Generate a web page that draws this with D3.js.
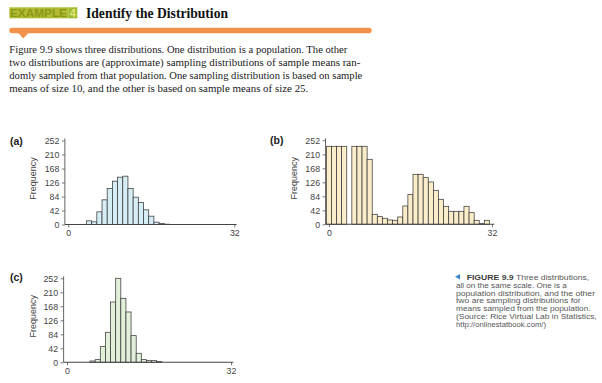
<!DOCTYPE html>
<html><head><meta charset="utf-8">
<script src="https://cdn.jsdelivr.net/npm/d3@7"></script>
<style>body{margin:0;background:#fff}svg{display:block}</style>
</head><body>
<svg id="c" width="602" height="383"></svg>
<script>
// ---- data ----
const binCenters = d3.range(0, 33);           // bins centred on 0..32
const popA = [0,0,0,0,11,8,38,74,108,130,142,145,108,82,66,44,25,7,3,1,0,0,0,0,0,0,0,0,0,0,0,0,0];
const popB = [234,234,234,234,0,234,234,234,195,30,23,18,13,12,22,55,89,150,150,140,127,102,75,54,39,39,39,54,35,12,2,12,0];
const popC = [0,0,0,0,0,4,8,47,90,181,252,192,151,80,27,8,5,5,2,0,0,0,0,0,0,0,0,0,0,0,0,0,0];
const yTicks = [0,42,84,126,168,210,252];
const xTicks = [0,32];
const panelLabels = ["(a)","(b)","(c)"];
const yTitle = "Frequency";
const titleText = "Identify the Distribution";
const exampleText = "EXAMPLE";
const exampleNum = "4";
const paragraph = [
  "Figure 9.9 shows three distributions. One distribution is a population. The other",
  "two distributions are (approximate) sampling distributions of sample means ran-",
  "domly sampled from that population. One sampling distribution is based on sample",
  "means of size 10, and the other is based on sample means of size 25."
];
const captionLines = [
  "FIGURE 9.9 Three distributions,",
  "all on the same scale. One is a",
  "population distribution, and the other",
  "two are sampling distributions for",
  "means sampled from the population.",
  "(Source: Rice Virtual Lab in Statistics,",
  "http://onlinestatbook.com/)"
];

// ---- layout ----
const svg = d3.select("#c");
svg.append("rect").attr("width",602).attr("height",383).attr("fill","#fff");

// header
svg.append("rect").attr("x",9.3).attr("y",7.3).attr("width",59).attr("height",11).attr("fill","#b1bb33");
svg.append("rect").attr("x",68.3).attr("y",7.3).attr("width",9).attr("height",11).attr("fill","#9dbb2c");
svg.append("text").attr("x",10).attr("y",17.3).text(exampleText)
  .attr("font-family","Liberation Sans, Arial, sans-serif").attr("font-size",11).attr("font-weight","bold")
  .attr("fill","#8a9818").attr("textLength",57).attr("lengthAdjust","spacingAndGlyphs");
svg.append("text").attr("x",72.8).attr("y",17.3).attr("text-anchor","middle").text(exampleNum)
  .attr("font-family","Liberation Sans, Arial, sans-serif").attr("font-size",11).attr("font-weight","bold")
  .attr("fill","#dfe579");
svg.append("text").attr("x",86).attr("y",17.5).text(titleText)
  .attr("font-family","Liberation Serif, Times New Roman, serif").attr("font-size",15.5).attr("font-weight","bold")
  .attr("fill","#111").attr("textLength",142).attr("lengthAdjust","spacingAndGlyphs");
svg.append("rect").attr("x",9.3).attr("y",27.7).attr("width",362.4).attr("height",5.6).attr("rx",2.8).attr("fill","#f3914b");
svg.append("path").attr("d","M18.3,33 L28.3,33 L23.3,38.5 Z").attr("fill","#f3914b");

const paraW = [338, 351, 353, 299];
svg.append("g").selectAll("text").data(paragraph).join("text")
  .attr("x",9.3).attr("y",(d,i)=>53+i*12.9).text(d=>d)
  .attr("font-family","Liberation Serif, Times New Roman, serif").attr("font-size",10.2)
  .attr("fill","#1a1a1a").attr("textLength",(d,i)=>paraW[i]).attr("lengthAdjust","spacingAndGlyphs");

// caption
const capX = [466.7,456,456,456,456,456,456];
const capW = [122.6,110.7,139,124.7,134.7,140.7,90];
const cap = svg.append("g").attr("font-family","Liberation Sans, Arial, sans-serif").attr("font-size",7.6).attr("fill","#555");
cap.append("path").attr("d","M455,276.8 L460,274 L460,279.6 Z").attr("fill","#3b87cf");
captionLines.forEach((line,i)=>{
  const t = cap.append("text").attr("x",capX[i]).attr("y",279.6+i*7.95)
    .attr("textLength",capW[i]).attr("lengthAdjust","spacingAndGlyphs");
  if(i===0){
    t.append("tspan").attr("font-weight","bold").attr("fill","#3d3d3d").text("FIGURE 9.9");
    t.append("tspan").text(line.slice(10));
  } else t.text(line);
});

// panels
const panels = [
  {data:popA, fill:"#d6edf6", x0:68.3, x32:234.3, yb:224.5, yt:140.5, lx:10, ly:144.6, fx:33},
  {data:popB, fill:"#fbedca", x0:328.9, x32:492.0, yb:224.3, yt:140.3, lx:270, ly:143.8, fx:294},
  {data:popC, fill:"#e2efd9", x0:67.0, x32:231.0, yb:362.3, yt:278.3, lx:10, ly:280.8, fx:33}
];
const font = "Liberation Sans, Arial, sans-serif";
const axisCol = "#555";

panels.forEach((p,pi)=>{
  const x = d3.scaleLinear().domain([0,32]).range([p.x0,p.x32]);
  const y = d3.scaleLinear().domain([0,252]).range([p.yb,p.yt]);
  const g = svg.append("g");
  const axX = x(-0.66);

  // bars
  g.append("g").selectAll("rect").data(binCenters.filter(i=>p.data[i]>0)).join("rect")
    .attr("x",i=>x(i-0.5)).attr("width",i=>x(i+0.5)-x(i-0.5))
    .attr("y",i=>y(p.data[i])).attr("height",i=>y(0)-y(p.data[i]))
    .attr("fill",p.fill).attr("stroke","#3a3a3a").attr("stroke-width",0.75);

  // y axis
  const ya = g.append("g").attr("transform",`translate(${axX},0)`)
    .call(d3.axisLeft(y).tickValues(yTicks).tickSize(3).tickPadding(2.5).tickSizeOuter(0));
  ya.select(".domain").remove();
  ya.append("line").attr("x1",0).attr("x2",0).attr("y1",y(0)).attr("y2",y(258))
    .attr("stroke",axisCol).attr("stroke-width",0.9);

  // x axis
  const xa = g.append("g").attr("transform",`translate(0,${p.yb})`)
    .call(d3.axisBottom(x).tickValues(xTicks).tickSize(3).tickPadding(2.5).tickSizeOuter(0));
  xa.select(".domain").remove();
  xa.append("line").attr("x1",axX).attr("x2",x(32.45)).attr("y1",0).attr("y2",0)
    .attr("stroke","#444").attr("stroke-width",1.1);

  [ya,xa].forEach(a=>{
    a.selectAll(".tick line").attr("stroke",axisCol).attr("stroke-width",0.8);
    a.selectAll(".tick text").attr("font-family",font).attr("font-size",8.8).attr("fill","#444");
  });

  g.append("text").attr("x",p.lx).attr("y",p.ly).text(panelLabels[pi])
    .attr("font-family",font).attr("font-size",10.5).attr("font-weight","bold").attr("fill","#222");
  g.append("text").attr("transform",`translate(${p.fx+3},${(p.yb+p.yt)/2-4}) rotate(-90)`)
    .attr("text-anchor","middle").text(yTitle)
    .attr("font-family",font).attr("font-size",9).attr("fill","#444");
});
</script>
</body></html>
